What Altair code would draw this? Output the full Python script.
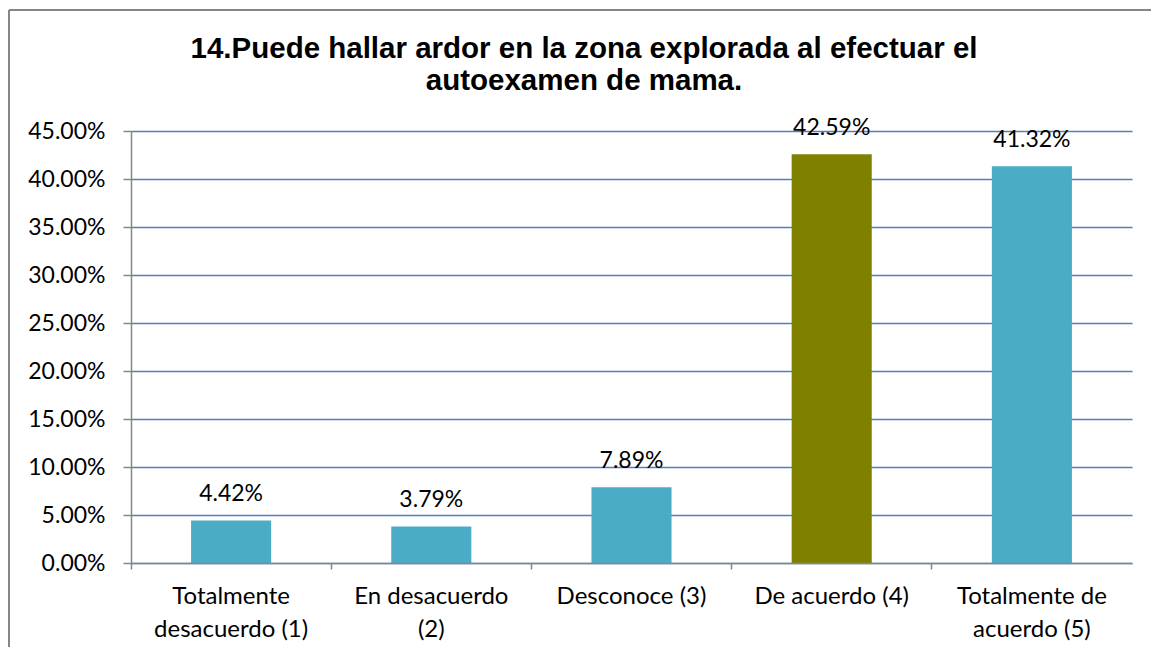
import altair as alt
import pandas as pd

categories = ["Totalmente desacuerdo (1)", "En desacuerdo (2)", "Desconoce (3)",
              "De acuerdo (4)", "Totalmente de acuerdo (5)"]
label_lines = ["Totalmente|desacuerdo (1)", "En desacuerdo|(2)", "Desconoce (3)",
               "De acuerdo (4)", "Totalmente de|acuerdo (5)"]
values = [0.0442, 0.0379, 0.0789, 0.4259, 0.4132]
bar_colors = ["#4BACC6", "#4BACC6", "#4BACC6", "#808000", "#4BACC6"]
y_ticks = [0.0, 0.05, 0.10, 0.15, 0.20, 0.25, 0.30, 0.35, 0.40, 0.45]
title_lines = "14.Puede hallar ardor en la zona explorada al efectuar el|autoexamen de mama."

df = pd.DataFrame({"cat": categories, "lab": label_lines, "v": values, "c": bar_colors})

W, H = 1001, 432
FONT = "Lato"

xs = alt.X("cat:N", sort=categories,
           scale=alt.Scale(paddingInner=0, paddingOuter=0),
           axis=alt.Axis(title=None, labels=False, bandPosition=0, tickSize=6,
                         tickColor="#868686", domainColor="#868686", domainWidth=1.5,
                         tickWidth=1.5, zindex=1, grid=False))
ys = alt.Y("v:Q", scale=alt.Scale(domain=[0, 0.45], nice=False),
           axis=alt.Axis(title=None, values=y_ticks, format=".2%", grid=True,
                         gridColor="#4F81BD", gridWidth=1.5, domainColor="#868686",
                         domainWidth=1.5, tickColor="#868686", tickWidth=1.5, tickSize=8,
                         labelPadding=18, labelFont=FONT, labelFontSize=23,
                         labelColor="#000000"))

base = alt.Chart(df)
first = "datum.cat == '" + categories[0] + "'"

bars = base.mark_bar(width=alt.RelativeBandSize(0.4)).encode(
    x=xs, y=ys, color=alt.Color("c:N", scale=None))

vals = base.mark_text(dy=-19.5, baseline="alphabetic", font=FONT, fontSize=23,
                      color="#000000").encode(
    x=alt.X("cat:N", sort=categories), y="v:Q", text=alt.Text("v:Q", format=".2%"))

cat_labels = base.mark_text(baseline="alphabetic", lineBreak="|", lineHeight=33,
                            font=FONT, fontSize=24, color="#000000").encode(
    x=alt.X("cat:N", sort=categories), y=alt.value(473), text="lab:N")

title = base.transform_filter(first).mark_text(
    baseline="alphabetic", lineBreak="|", lineHeight=32, align="center",
    font="Liberation Sans", fontWeight="bold", fontSize=29.5, color="#000000").encode(
    x=alt.value(453), y=alt.value(-73), text=alt.value(title_lines))

border_top = base.transform_filter(first).mark_rule(
    color="#868686", strokeWidth=2).encode(
    x=alt.value(-122), x2=alt.value(1020), y=alt.value(-121))
border_left = base.transform_filter(first).mark_rule(
    color="#868686", strokeWidth=2).encode(
    x=alt.value(-122), y=alt.value(-121), y2=alt.value(516))

chart = alt.layer(bars, vals, cat_labels, title, border_top, border_left).properties(
    width=W, height=H,
    autosize=alt.AutoSizeParams(type="none"),
    padding={"left": 123, "top": 123, "right": 19, "bottom": 84},
    background="white",
).configure_view(stroke=None)

chart.save("out.html", embed_options={"renderer": "svg", "actions": False})
